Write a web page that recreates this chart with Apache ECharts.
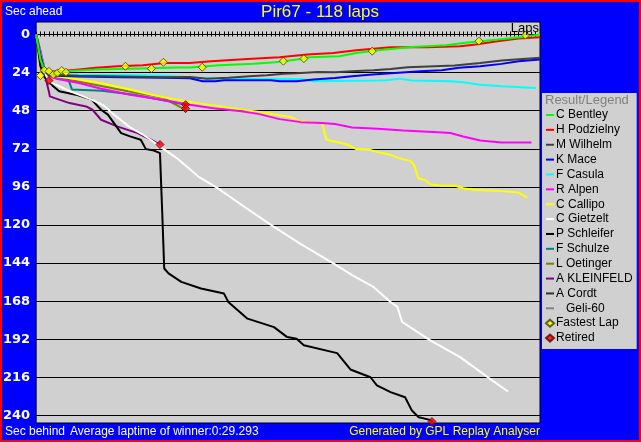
<!DOCTYPE html>
<html><head><meta charset="utf-8">
<script src="https://cdn.jsdelivr.net/npm/echarts@6/dist/echarts.min.js"></script>
<style>html,body{margin:0;padding:0;background:#0000ff;}#c{width:641px;height:442px;}</style>
</head><body><div id="c"></div>
<script>
// ---------- DATA ----------
const yTicks = [0, 24, 48, 72, 96, 120, 144, 168, 192, 216, 240];
const totalLaps = 118;
const drivers = ['C Bentley','H Podzielny','M Wilhelm','K Mace','F Casula','R Alpen','C Callipo','C Gietzelt','P Schleifer','F Schulze','L Oetinger','A KLEINFELD','A Cordt','Geli-60'];
// [lap, seconds behind]
const bentley = [[0,0],[1,16],[2,23],[3,24],[5,23.4],[8,23],[14,22],[22,21.5],[33,20.8],[36,20.8],[43,19.4],[51,18.5],[56,17.5],[62,15.4],[64,14.3],[71,13.7],[75,11.6],[80,9.9],[88,7.8],[96,6.8],[100,5.3],[108,3.2],[114,1.5],[118,0]];
const podzielny = [[0,0],[1,15],[2,23],[3,23.5],[6,23],[10,22],[14,21],[19,20],[25,19.3],[30,18],[36,17.9],[41,16.8],[49.5,15.4],[57,14.3],[63.5,12.6],[69.6,11.6],[75,9.9],[83,8],[91.6,8],[99.3,7.4],[103,6.3],[108,4.2],[113,2.5],[118,1.7]];
const wilhelm = [[0,0],[1,14],[2,23],[3,25],[5,25.5],[10,26],[20,26.5],[30,27],[36,26.7],[40,27.8],[45,27.2],[50,26.3],[54,25.7],[58,24.8],[61,24.4],[66,23.6],[70,23.8],[74,23.2],[79,22.5],[83,21.7],[87,20.6],[98,19.6],[104,17.9],[109,16.4],[114,15.4],[118,14.7]];
const mace = [[0,0],[1,13],[2,23],[3,25.5],[5,26],[10,26.5],[20,27],[30,27.3],[36,27.5],[39,29.5],[42,29.5],[44,28.8],[55,28.8],[57,29.5],[61,29.5],[65,28.4],[70,27.4],[74,26.3],[78,25.3],[84,24.2],[90,23.2],[95,22.5],[99,21],[104,20],[109,18.5],[113,16.8],[118,15.8]];
const casula = [[0,0],[1,12],[2,22],[3,25],[10,25.3],[20,25.5],[30,26],[36,27],[44,28],[62,28],[65,29.5],[80,29],[82,28.8],[85,27.8],[88,29],[97,29.5],[100,30.1],[104,31.6],[109,32.6],[117,33.7]];
const alpen = [[0,0],[1,10],[2,22],[3,26],[5,28],[10,30.5],[15,34],[22,37.9],[29,41],[36,44.2],[41,46.3],[48,48.4],[52,50],[57,53.3],[62,55.2],[67,55.8],[70,56.4],[72,57.5],[74,58.6],[80,59.4],[86,60.4],[94,61.5],[97,62.1],[100,64.2],[104,66.8],[109,68],[116,68]];
const callipo = [[0,0],[1,12],[2,22],[3,25],[5,26.5],[10,28.4],[15,30.5],[21,34],[27,37.9],[32.5,41],[38.6,43.6],[45.6,46.3],[52.6,49],[59.6,52],[62,54.7],[66,55.8],[67,56.2],[68,66.3],[71,68],[73,69.5],[75,72.2],[78,72.6],[80,74.1],[83,75.8],[85,77.9],[87.6,79.6],[88.5,82.1],[89.5,90.5],[91,91.6],[92.3,94.3],[94.6,95.2],[98,95.2],[100,96.8],[103,97.9],[108,98.5],[113,99.6],[115,102.7]];
const gietzelt = [[0,0],[1,14],[2,24],[3,29.5],[5,32],[8,35.8],[13,41],[16,45],[18,50],[22,58.5],[25,63],[29,70.5],[33,78],[38,89.5],[42.5,96.8],[49,109],[55.6,121],[62,132],[69.6,144.2],[74,151.6],[79,159],[83,168.5],[84.6,171.6],[85.7,181],[92.3,192.7],[99.3,203.2],[106.3,216.9],[110.5,224.9]];
const schleifer = [[0,0],[1,20],[2,27],[4,32.6],[5.4,35.8],[9.3,37.9],[13,41],[15.2,47.4],[16.8,50.5],[19.9,62.1],[22,64.2],[24.5,66.3],[25.7,72.2],[27.6,73.1],[29,74.7],[29.5,110],[30,147.4],[31,150.5],[34,155.8],[38.6,160],[44,163.2],[45,168.5],[49.5,179],[55.7,184.3],[58.8,190.6],[61,191.6],[62.7,195.8],[70.5,200.7],[73.6,211],[78.3,215.9],[79.8,221],[83,225.3],[86.4,228.5],[88,236.9],[89.6,241.1],[92,242.6],[93,243.8]];
const schulze = [[0,0],[1,11],[2,22],[3,25],[5,26.5],[7.5,28],[8.4,34.7],[15.4,35.4],[23,37.9],[27,40],[31,42.1],[35,44.2]];
const oetinger = [[0,0],[1,12],[2,22],[3,25.5],[5,27],[7.5,28.4],[15.5,32.6],[21.5,35.8],[27,38.5],[30,40],[32,43.2],[34,46],[35,47]];
const kleinfeld = [[0,0],[1,14],[2,25],[3,36],[3.2,39],[5.4,41],[7.8,43.2],[11.7,45.3],[13.2,47.4],[15.2,53.7],[19.1,58],[23.8,62.1],[26.9,66.3],[29,69.3]];
const cordt = [[0,0],[1,15],[2,24],[3,29]];
const geli = [];
const fastestLaps = [[1,25.9],[1.9,22.5],[3,23.2],[4,25.3],[5,24.2],[6,22.7],[7,23.8],[20.9,20],[27,21.5],[29.8,17.5],[38.9,20.6],[57.9,16.8],[62.7,15.2],[78.7,10.5],[103.7,4.2],[114.6,0.4]];
const retired = [[3,29],[35,44.2],[35,46.7],[29,69.3],[92.7,243.8]];
const seriesData = [bentley, podzielny, wilhelm, mace, casula, alpen, callipo, gietzelt, schleifer, schulze, oetinger, kleinfeld, cordt, geli];

// ---------- STYLE ----------
const colors = ['#00ff00','#ff0000','#404040','#0000ff','#00ffff','#ff00ff','#ffff00','#ffffff','#000000','#008080','#808000','#800080','#303030','#808080'];
const lineIcon = 'path://M0,0H8V2H0Z';
const yMin = -7.874, yMax = 244.72;

const chart = echarts.init(document.getElementById('c'), null, {renderer: 'canvas'});
const series = drivers.map((name, i) => ({
  name, type: 'line', data: seriesData[i], showSymbol: false, symbol: 'none',
  lineStyle: {color: colors[i], width: 2}, itemStyle: {color: colors[i]},
  animation: false, z: 2 + (drivers.length - i) * 0.01
}));
series.push({name: 'Fastest Lap', type: 'scatter', data: fastestLaps, symbol: 'diamond', symbolSize: 8,
  itemStyle: {color: '#ffff00', borderColor: '#404000', borderWidth: 1}, z: 5, animation: false});
series.push({name: 'Retired', type: 'scatter', data: retired, symbol: 'diamond', symbolSize: 8,
  itemStyle: {color: '#ff0000', borderColor: '#600000', borderWidth: 1}, z: 5, animation: false});

const legendData = drivers.map(n => ({name: n, icon: lineIcon}))
  .concat([{name: 'Fastest Lap', icon: 'diamond'}, {name: 'Retired', icon: 'diamond'}]);

const font = 'Liberation Sans';
chart.setOption({
  animation: false,
  backgroundColor: '#0000ff',
  grid: {left: 34, right: 101, top: 22, bottom: 19, show: true, backgroundColor: '#d0d0d0', borderColor: '#000', borderWidth: 1},
  xAxis: [
    {type: 'value', min: 0, max: totalLaps, interval: 1, position: 'bottom',
     axisLine: {show: true, onZero: true, lineStyle: {color: '#000', width: 1}},
     axisTick: {show: true, length: 2, lineStyle: {color: '#000', width: 1}},
     axisLabel: {show: false}, splitLine: {show: false}},
    {type: 'value', min: 0, max: totalLaps, interval: 1, position: 'top', offset: -12.5,
     axisLine: {show: true, onZero: false, lineStyle: {color: '#000', width: 1}},
     axisTick: {show: true, length: 3, lineStyle: {color: '#000', width: 1}},
     axisLabel: {show: false}, splitLine: {show: false}}
  ],
  yAxis: {type: 'value', inverse: true, min: yMin, max: yMax,
    axisLine: {show: false},
    axisTick: {show: false, customValues: yTicks},
    axisLabel: {customValues: yTicks, color: '#fff', fontWeight: 'bold', fontSize: 13, fontFamily: 'DejaVu Sans', margin: 6},
    splitLine: {show: true, lineStyle: {color: '#000', width: 1}}
  },
  legend: {
    orient: 'vertical', left: 542, top: 93, padding: [15, 4, 4, 3],
    backgroundColor: '#d0d0d0', itemWidth: 8, itemHeight: 7, itemGap: 0.87,
    textStyle: {color: '#000', fontSize: 12, fontFamily: font, lineHeight: 14, padding: [0, 0, 0, -3]},
    formatter: n => n === 'Geli-60' ? '   Geli-60' : n,
    data: legendData, selectedMode: false
  },
  graphic: [
    {type: 'text', x: 320, y: 12, z: 100, style: {text: 'Pir67 - 118 laps', fill: '#ffff00', font: '17px ' + font, align: 'center', verticalAlign: 'middle'}},
    {type: 'text', x: 5, y: 12, z: 100, style: {text: 'Sec ahead', fill: '#fff', font: '12px ' + font, align: 'left', verticalAlign: 'middle'}},
    {type: 'text', x: 5, y: 432, z: 100, style: {text: 'Sec behind', fill: '#fff', font: '12px ' + font, align: 'left', verticalAlign: 'middle'}},
    {type: 'text', x: 70, y: 432, z: 100, style: {text: 'Average laptime of winner:0:29.293', fill: '#fff', font: '12px ' + font, align: 'left', verticalAlign: 'middle'}},
    {type: 'text', x: 540, y: 432, z: 100, style: {text: 'Generated by GPL Replay Analyser', fill: '#ffff00', font: '12px ' + font, align: 'right', verticalAlign: 'middle'}},
    {type: 'text', x: 539, y: 28, z: 100, style: {text: 'Laps', fill: '#000', font: '13px ' + font, align: 'right', verticalAlign: 'middle'}},
    {type: 'text', x: 545, y: 100, z: 100, style: {text: 'Result/Legend', fill: '#808080', font: '13px ' + font, align: 'left', verticalAlign: 'middle'}},
    {type: 'rect', z: 100, shape: {x: 1, y: 1, width: 639, height: 440}, style: {fill: 'none', stroke: '#ff0000', lineWidth: 2}}
  ],
  series
});
</script></body></html>
